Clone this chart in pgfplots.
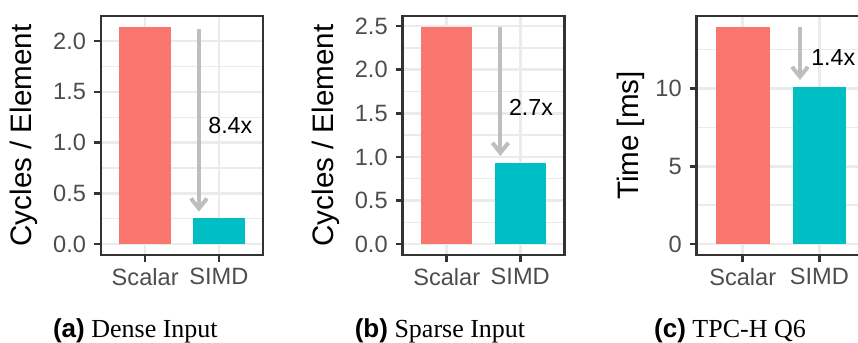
\documentclass[border=0pt]{standalone}
\usepackage{pgfplots}
\pgfplotsset{compat=1.18}
\usepackage{fontspec}
\setmainfont{Liberation Serif}
\setsansfont{Liberation Sans}
\usetikzlibrary{arrows.meta}
\definecolor{scal}{HTML}{F8766D}
\definecolor{simd}{HTML}{00BFC4}
\definecolor{frame}{HTML}{333333}
\definecolor{tickgrey}{HTML}{4D4D4D}
\definecolor{gridc}{HTML}{EBEBEB}
\definecolor{arrowc}{HTML}{BEBEBE}
\tikzset{
  slabel/.style={anchor=west, inner sep=0pt, font=\sffamily\fontsize{11.6}{13}\selectfont, text=black},
}
\pgfplotsset{
  panel/.style={
    scale only axis,
    anchor=south west,
    height=119.5pt,
    line width=1.35pt,
    xmin=0.4, xmax=2.6,
    xtick={1,2}, xticklabels={Scalar,SIMD},
    xtick pos=bottom, ytick pos=left,
    tick align=outside,
    major tick length=3.5pt,
    minor tick length=0pt,
    tick style={color=frame, line width=1.3pt},
    axis line style={draw=frame, line width=1.35pt},
    xmajorgrids, ymajorgrids, yminorgrids,
    major grid style={draw=gridc, line width=1.3pt},
    minor grid style={draw=gridc, line width=0.7pt},
    /pgf/number format/assume math mode=true,
    ticklabel style={font=\sffamily\fontsize{11.8}{13}\selectfont, text=tickgrey},
    yticklabel style={anchor=east},
    xticklabel style={anchor=north, yshift=1pt},
    label style={font=\sffamily\fontsize{14.8}{16}\selectfont, text=black},
  },
  sbar/.style={ybar, bar width=0.7, bar shift=0pt, fill=#1, draw=none},
  sarrow/.style={draw=arrowc, line width=2pt, -{Straight Barb[length=5pt,width=8pt,line width=2pt]}},
}
\begin{document}
\begin{tikzpicture}
% (a) Dense Input
\begin{axis}[panel, at={(50.5pt,44pt)}, width=81pt,
  ymin=-0.107, ymax=2.247,
  ytick={0,0.5,1,1.5,2}, minor ytick={0.25,0.75,1.25,1.75},
  yticklabel style={/pgf/number format/.cd, fixed, fixed zerofill, precision=1},
  ylabel={Cycles / Element},
  ylabel style={at={(axis description cs:-0.475,0.5)}, anchor=center},
]
\addplot[sbar=scal] coordinates {(1,2.14)};
\addplot[sbar=simd] coordinates {(2,0.255)};
\addplot[sarrow] coordinates {(1.73,2.12) (1.73,0.32)};
\node[slabel] at (axis cs:1.84,1.165) {8.4x};
\end{axis}
% (b) Sparse Input
\begin{axis}[panel, at={(201.35pt,44pt)}, width=80.8pt,
  ymin=-0.1245, ymax=2.6145,
  ytick={0,0.5,1,1.5,2,2.5}, minor ytick={0.25,0.75,1.25,1.75,2.25},
  yticklabel style={/pgf/number format/.cd, fixed, fixed zerofill, precision=1},
  ylabel={Cycles / Element},
  ylabel style={at={(axis description cs:-0.478,0.5)}, anchor=center},
]
\addplot[sbar=scal] coordinates {(1,2.49)};
\addplot[sbar=simd] coordinates {(2,0.93)};
\addplot[sarrow] coordinates {(1.73,2.49) (1.73,1.01)};
\node[slabel] at (axis cs:1.83,1.57) {2.7x};
\end{axis}
% (c) TPC-H Q6
\begin{axis}[panel, at={(348.35pt,44pt)}, width=84.35pt,
  ymin=-0.6975, ymax=14.6475,
  ytick={0,5,10}, minor ytick={2.5,7.5,12.5},
  ylabel={Time [ms]},
  ylabel style={at={(axis description cs:-0.39,0.5)}, anchor=center},
]
\addplot[sbar=scal] coordinates {(1,13.95)};
\addplot[sbar=simd] coordinates {(2,10.08)};
\addplot[sarrow] coordinates {(1.747,13.96) (1.747,10.54)};
\node[slabel] at (axis cs:1.877,11.98) {1.4x};
\end{axis}
\node[anchor=base] at (67.7pt,2.85pt) {\fontsize{13}{15}\selectfont\textsf{\bfseries (a)} Dense Input};
\node[anchor=base] at (220pt,2.85pt) {\fontsize{13}{15}\selectfont\textsf{\bfseries (b)} Sparse Input};
\node[anchor=base] at (365pt,2.85pt) {\fontsize{13}{15}\selectfont\textsf{\bfseries (c)} TPC-H Q6};
\pgfresetboundingbox
\useasboundingbox (0,0) rectangle (429pt,171.5pt);
\end{tikzpicture}
\end{document}
